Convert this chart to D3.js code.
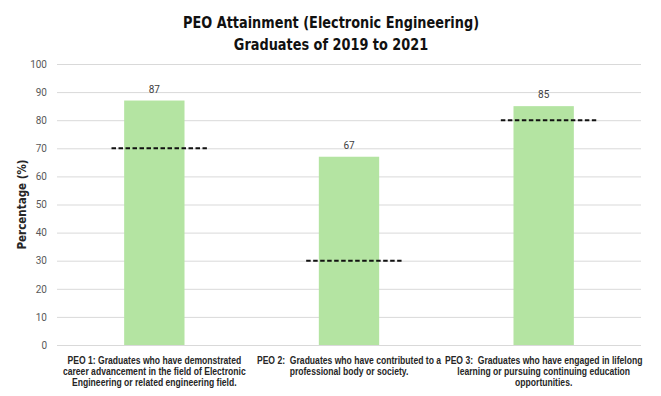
<!DOCTYPE html>
<html>
<head>
<meta charset="utf-8">
<script src="https://cdn.jsdelivr.net/npm/d3@7"></script>
<style>
  body { margin: 0; background: #fff; }
  svg { font-family: "DejaVu Sans", sans-serif; }
</style>
</head>
<body>
<div id="chart"></div>
<script>
// data
const categories = ["PEO 1", "PEO 2", "PEO 3"];
const categoryLabels = [
  ["PEO 1: Graduates who have demonstrated", "career advancement in the field of Electronic", "Engineering or related engineering field."],
  ["PEO 2:  Graduates who have contributed to a", "professional body or society."],
  ["PEO 3:  Graduates who have engaged in lifelong", "learning or pursuing continuing education", "opportunities."]
];
const attainment = [87, 67, 85];
const targets = [70, 30, 80];
const yTicks = [0, 10, 20, 30, 40, 50, 60, 70, 80, 90, 100];
const titleLines = ["PEO Attainment (Electronic Engineering)", "Graduates of 2019 to 2021"];

const w = 661, h = 396;
const plotLeft = 57, plotRight = 641, plotTop = 64, plotBottom = 345;
const narrow = 0.86; // squeeze the fallback font to look like a narrow face

const svg = d3.select("#chart").append("svg")
  .attr("width", w)
  .attr("height", h);

let x = d3.scaleBand()
  .domain(categories)
  .range([plotLeft, plotRight])
  .paddingInner(0.69)
  .paddingOuter(0.345);

let band = (plotRight - plotLeft) / categories.length;

let y = d3.scaleLinear()
  .domain([0, 100])
  .range([plotBottom, plotTop]);

// gridlines + y labels
let yAxis = d3.axisLeft(y)
  .tickValues(yTicks)
  .tickSize(-(plotRight - plotLeft))
  .tickPadding(10);

let gy = svg.append("g")
  .attr("transform", "translate(" + plotLeft + ",0)")
  .call(yAxis);
gy.select(".domain").remove();
gy.selectAll(".tick line").attr("stroke", "#d9d9d9").attr("stroke-width", 1);
gy.selectAll(".tick text")
  .attr("fill", "#595959")
  .attr("font-size", "10px")
  .attr("font-family", "Roboto, sans-serif");

// bars
svg.selectAll("rect.bar")
  .data(attainment)
  .enter()
  .append("rect")
  .attr("class", "bar")
  .attr("x", function(d, i) { return x(categories[i]); })
  .attr("y", function(d) { return y(d); })
  .attr("width", x.bandwidth())
  .attr("height", function(d) { return plotBottom - y(d); })
  .attr("fill", "#b4e4a2");

// value labels
svg.selectAll("text.val")
  .data(attainment)
  .enter()
  .append("text")
  .attr("class", "val")
  .attr("x", function(d, i) { return x(categories[i]) + x.bandwidth() / 2; })
  .attr("y", function(d) { return y(d) - 8; })
  .attr("text-anchor", "middle")
  .attr("font-size", "10px")
  .attr("font-family", "Roboto, sans-serif")
  .attr("fill", "#404040")
  .text(function(d) { return d; });

// target dashed lines
svg.selectAll("line.target")
  .data(targets)
  .enter()
  .append("line")
  .attr("class", "target")
  .attr("x1", function(d, i) { return x(categories[i]) + x.bandwidth() / 2 - band * 0.22; })
  .attr("x2", function(d, i) { return x(categories[i]) + x.bandwidth() / 2 + band * 0.27; })
  .attr("y1", function(d) { return y(d); })
  .attr("y2", function(d) { return y(d); })
  .attr("stroke", "#111")
  .attr("stroke-width", 2)
  .attr("stroke-dasharray", "4.5,2.5");

// category labels
categoryLabels.forEach(function(lines, i) {
  let cx = x(categories[i]) + x.bandwidth() / 2;
  let t = svg.append("text")
    .attr("transform", "translate(" + cx + ",364) scale(" + narrow + ",1)")
    .attr("text-anchor", "middle")
    .attr("font-size", "10px")
    .attr("font-weight", "bold")
    .attr("font-family", "'Liberation Sans', Arial, sans-serif")
    .attr("fill", "#262626")
    .style("white-space", "pre");
  lines.forEach(function(l, j) {
    t.append("tspan")
      .attr("x", 0)
      .attr("dy", j === 0 ? 0 : 11)
      .text(l);
  });
});

// y axis title
svg.append("text")
  .attr("transform", "translate(26," + ((plotTop + plotBottom) / 2) + ") rotate(-90) scale(0.9,1)")
  .attr("text-anchor", "middle")
  .attr("font-size", "11.5px")
  .attr("font-weight", "bold")
  .attr("fill", "#262626")
  .text("Percentage (%)");

// title
svg.selectAll("text.title")
  .data(titleLines)
  .enter()
  .append("text")
  .attr("class", "title")
  .attr("transform", function(d, i) { return "translate(331," + (28 + i * 22) + ") scale(0.86,1)"; })
  .attr("text-anchor", "middle")
  .attr("font-size", "15px")
  .attr("font-weight", "bold")
  .attr("fill", "#111")
  .text(function(d) { return d; });
</script>
</body>
</html>
